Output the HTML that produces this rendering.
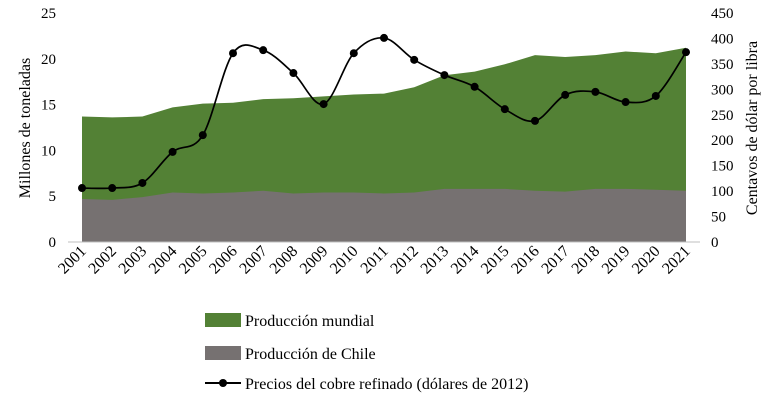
<!DOCTYPE html>
<html><head><meta charset="utf-8"><style>
body{margin:0;background:#fff;width:774px;height:400px;overflow:hidden}
svg text{font-family:"Liberation Serif",serif;fill:#000}
</style></head><body>
<svg id="c" width="774" height="400"></svg>
<script>
const years=[2001,2002,2003,2004,2005,2006,2007,2008,2009,2010,2011,2012,2013,2014,2015,2016,2017,2018,2019,2020,2021];
const world=[13.7,13.6,13.7,14.7,15.1,15.2,15.6,15.7,15.9,16.1,16.2,16.9,18.2,18.6,19.4,20.4,20.2,20.4,20.8,20.6,21.2];
const chile=[4.7,4.6,4.9,5.4,5.3,5.4,5.6,5.3,5.4,5.4,5.3,5.4,5.8,5.8,5.8,5.6,5.5,5.8,5.8,5.7,5.6];
const price=[106,106,116,177,210,371,377,332,271,371,401,358,328,305,261,238,289,295,275,287,373];
const leftTicks=[0,5,10,15,20,25];
const rightTicks=[0,50,100,150,200,250,300,350,400,450];
const svg=document.getElementById('c');const NS='http://www.w3.org/2000/svg';
function el(t,a,txt){const e=document.createElementNS(NS,t);for(const k in a)e.setAttribute(k,a[k]);if(txt!==undefined)e.textContent=txt;svg.appendChild(e);return e;}
const x=i=>82+i*(686-82)/(years.length-1);
const yL=v=>242-v/25*229;
const yR=v=>242-v/450*229;
function area(vals,fill,name){let d='M'+x(0)+','+yL(0);vals.forEach((v,i)=>d+='L'+x(i)+','+yL(v));d+='L'+x(vals.length-1)+','+yL(0)+'Z';
const p=el('path',{d:d,fill:fill});}
area(world,'#538135','world-production-area');
area(chile,'#767171','chile-production-area');
el('line',{x1:68,y1:242,x2:700,y2:242,stroke:'#bfbfbf'});
leftTicks.forEach(t=>{const e=el('text',{x:56,y:yL(t)+5,'text-anchor':'end','font-size':15},t);});
rightTicks.forEach(t=>{const e=el('text',{x:711,y:yR(t)+5,'font-size':15},t);});
years.forEach((yr,i)=>{const e=el('text',{x:x(i)+5,y:252,'font-size':16,'text-anchor':'end',transform:`rotate(-45 ${x(i)+5} 252)`},yr);});
const pts=price.map((v,i)=>[x(i),yR(v)]);
let d='M'+pts[0][0]+','+pts[0][1];
for(let i=0;i<pts.length-1;i++){const p0=pts[i-1]||pts[i],p1=pts[i],p2=pts[i+1],p3=pts[i+2]||p2;
d+=`C${p1[0]+(p2[0]-p0[0])/6},${p1[1]+(p2[1]-p0[1])/6} ${p2[0]-(p3[0]-p1[0])/6},${p2[1]-(p3[1]-p1[1])/6} ${p2[0]},${p2[1]}`;}
const ln=el('path',{d:d,fill:'none',stroke:'#000','stroke-width':1.7});

pts.forEach(p=>{const c=el('circle',{cx:p[0],cy:p[1],r:4,fill:'#000'});});
</script>
<svg width="774" height="400" style="position:absolute;left:0;top:0">
<text x="30" y="128" font-size="16" text-anchor="middle" transform="rotate(-90 30 128)">Millones de toneladas</text>
<text x="757" y="128" font-size="16" text-anchor="middle" transform="rotate(-90 757 128)">Centavos de dólar por libra</text>
<rect x="205" y="313" width="36" height="14" fill="#538135"/>
<text x="245" y="326" font-size="16">Producción mundial</text>
<rect x="205" y="346" width="36" height="14" fill="#767171"/>
<text x="245" y="359" font-size="16">Producción de Chile</text>
<line x1="205" y1="383" x2="241" y2="383" stroke="#000" stroke-width="2"/>
<circle cx="223" cy="383" r="4" fill="#000"/>
<text x="245" y="389" font-size="16">Precios del cobre refinado (dólares de 2012)</text>
</svg>
</body></html>
